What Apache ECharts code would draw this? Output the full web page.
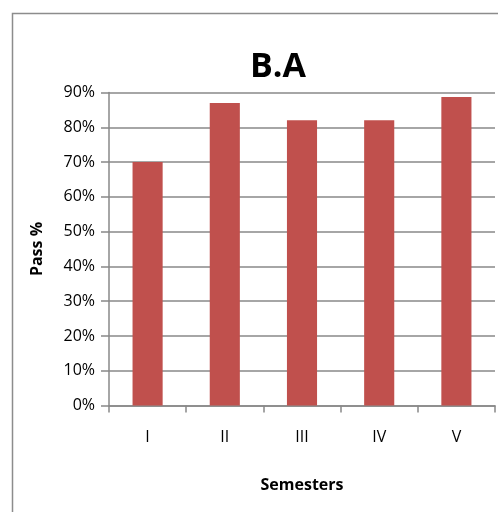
<!DOCTYPE html>
<html>
<head>
<meta charset="utf-8">
<script src="https://cdn.jsdelivr.net/npm/echarts@6/dist/echarts.min.js"></script>
<style>html,body{margin:0;padding:0;background:#fff;}#c{width:498px;height:512px;}</style>
</head>
<body>
<div id="c"></div>
<script>
const categories = ['I', 'II', 'III', 'IV', 'V'];
const passPercent = [70, 87, 82, 82, 88.7];
const yTicks = [0, 10, 20, 30, 40, 50, 60, 70, 80, 90];

const chart = echarts.init(document.getElementById('c'), null, {renderer: 'canvas'});
const font = 'Open Sans, Noto Sans, sans-serif';
chart.setOption({
  animation: false,
  backgroundColor: '#fff',
  graphic: [{
    type: 'rect',
    shape: {x: 12.5, y: 13.5, width: 520, height: 540},
    style: {fill: 'none', stroke: '#8c8c8c', lineWidth: 1.5},
    silent: true
  }],
  title: {
    text: 'B.A',
    left: 273, top: 45, textAlign: 'center',
    textStyle: {fontFamily: font, fontWeight: 'bold', fontSize: 34, color: '#000'}
  },
  grid: {left: 109, right: 3, top: 92.5, bottom: 106.5},
  xAxis: {
    type: 'category',
    data: categories,
    name: 'Semesters',
    nameLocation: 'middle',
    nameGap: 72,
    nameTextStyle: {fontFamily: font, fontWeight: 'bold', fontSize: 16, color: '#000'},
    axisLine: {lineStyle: {color: '#888', width: 1.5}},
    axisTick: {show: true, length: 7, lineStyle: {color: '#888', width: 1.5}},
    axisLabel: {fontFamily: font, fontSize: 16, color: '#000', margin: 24}
  },
  yAxis: {
    type: 'value',
    min: yTicks[0], max: yTicks[yTicks.length - 1], interval: 10,
    name: 'Pass %',
    nameLocation: 'middle',
    nameGap: 64,
    nameRotate: 90,
    nameTextStyle: {fontFamily: font, fontWeight: 'bold', fontSize: 16, color: '#000'},
    axisLine: {show: true, lineStyle: {color: '#888', width: 1.5}},
    axisTick: {show: true, length: 8, lineStyle: {color: '#888', width: 1.5}},
    splitLine: {lineStyle: {color: '#888', width: 1.5}},
    axisLabel: {fontFamily: font, fontSize: 16, color: '#000', margin: 14, formatter: '{value}%'}
  },
  series: [{
    type: 'bar',
    data: passPercent,
    barWidth: '39%',
    itemStyle: {color: '#C0504D'}
  }]
});
</script>
</body>
</html>
